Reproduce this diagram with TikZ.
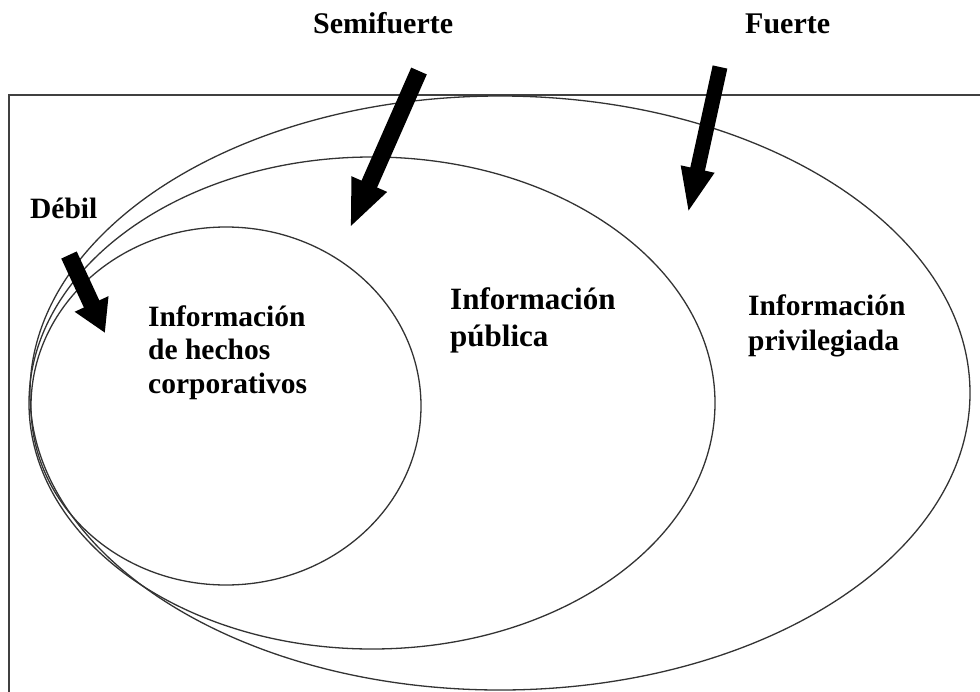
\documentclass[tikz,border=0pt]{standalone}
\usepackage{fontspec}
\setmainfont{Liberation Serif}
\usetikzlibrary{arrows.meta}
\begin{document}
\begin{tikzpicture}[x=1pt,y=-1pt,
  ring/.style={draw=black!80, line width=1.3pt},
  frameline/.style={draw=black!75, line width=1.5pt},
  blockarrow/.style 2 args={line width=#2, -{Triangle[length=#1, width=2.05*#2]}},
  lbl/.style={font=\bfseries\fontsize{30}{34}\selectfont, anchor=base west, inner sep=0pt, align=left},
  inlbl/.style={font=\bfseries\fontsize{29.5}{33.5}\selectfont, anchor=base west, inner sep=0pt, align=left},
]
\useasboundingbox (0,0) rectangle (980,691);
% frame (only top and left edges visible)
\draw[frameline] (9,700) -- (9,95) -- (990,95);
% ellipses
\draw[ring] (500,393) ellipse [x radius=470pt, y radius=297pt];
\draw[ring] (372,403) ellipse [x radius=343pt, y radius=246pt];
\draw[ring] (226,406) ellipse [x radius=195pt, y radius=179pt];
% arrows
\coordinate (dt) at (69,255);  \coordinate (dh) at (105,333);
\coordinate (st) at (419,71);  \coordinate (sh) at (350,228);
\coordinate (ft) at (720,67);  \coordinate (fh) at (688,213);
\draw[blockarrow={32pt}{17pt}] (dt) -- (dh);
\draw[blockarrow={48pt}{17pt}] (st) -- (sh);
\draw[blockarrow={45pt}{15pt}] (ft) -- (fh);
% labels
\node[lbl] (semi) at (313,33) {Semifuerte};
\node[lbl] (fuerte) at (745,33) {Fuerte};
\node[lbl,font=\bfseries\fontsize{29.5}{33}\selectfont] (debil) at (30,218) {Débil};
\node[inlbl] (hechos) at (148,393) {Información\\de hechos\\corporativos};
\node[inlbl,font=\bfseries\fontsize{31}{37}\selectfont] (publica) at (450,346) {Información\\pública};
\node[inlbl,font=\bfseries\fontsize{29.5}{35}\selectfont] (priv) at (748,350) {Información\\privilegiada};
\end{tikzpicture}
\end{document}
